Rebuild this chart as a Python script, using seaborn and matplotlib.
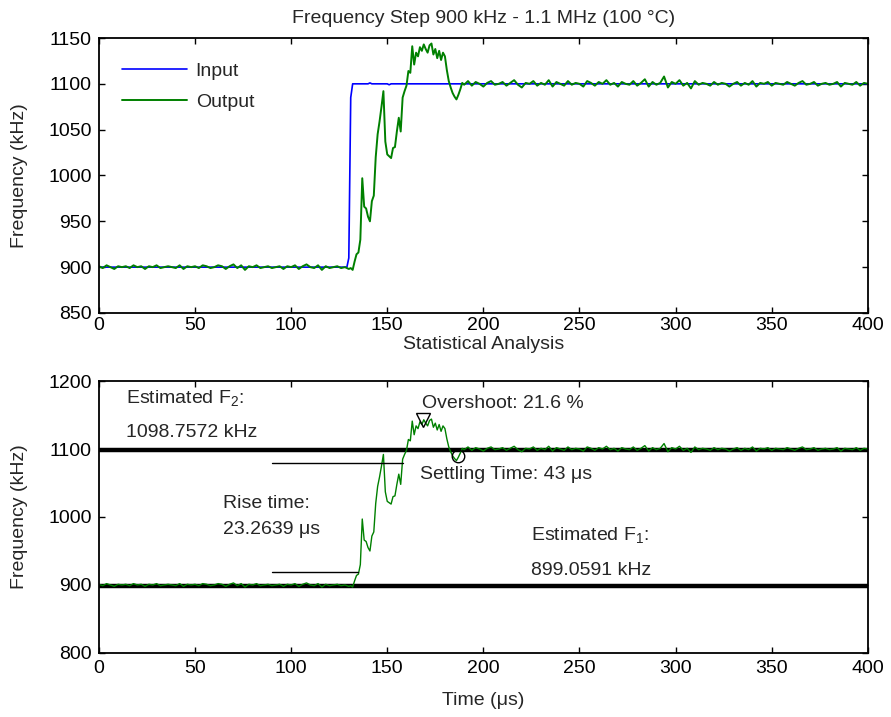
import numpy as np
import pandas as pd
import matplotlib
matplotlib.use("Agg")
import matplotlib.pyplot as plt
import seaborn as sns

# ---------- data --------------------------------------------------------
t_pre = np.arange(0, 131, 2)
out_pre = [901, 899, 902, 900, 898, 901, 900, 901, 899, 902,
           900, 901, 898, 901, 900, 902, 899, 900, 901, 900,
           899, 902, 898, 901, 900, 901, 899, 902, 901, 899,
           900, 902, 901, 898, 901, 903, 899, 902, 897, 901,
           900, 902, 899, 900, 901, 899, 900, 901, 898, 901,
           900, 902, 898, 901, 903, 900, 899, 902, 897, 901,
           899, 900, 901, 899, 900, 898]

t_step = np.arange(131, 190)
out_step = [899, 897, 906, 914, 916, 930, 997, 966, 964, 955,
            950, 972, 978, 1020, 1045, 1059, 1075, 1092, 1037, 1023,
            1021, 1019, 1030, 1031, 1048, 1063, 1048, 1085, 1092, 1098,
            1114, 1112, 1141, 1121, 1134, 1130, 1140, 1136, 1143, 1138,
            1134, 1142, 1144, 1132, 1138, 1128, 1136, 1126, 1134, 1130,
            1115, 1103, 1096, 1090, 1086, 1083, 1088, 1094, 1101]

t_post = np.arange(190, 401, 2)
out_post = [1099, 1103, 1098, 1102, 1100, 1097, 1101, 1103, 1099, 1100,
            1102, 1098, 1101, 1104, 1099, 1096, 1101, 1100, 1103, 1098,
            1101, 1099, 1104, 1097, 1102, 1100, 1098, 1103, 1099, 1101,
            1100, 1097, 1103, 1101, 1098, 1102, 1100, 1104, 1099, 1101,
            1097, 1102, 1100, 1099, 1103, 1098, 1101, 1105, 1097, 1102,
            1099, 1101, 1108, 1096, 1102, 1100, 1104, 1098, 1101, 1095,
            1103, 1099, 1101, 1100, 1098, 1102, 1099, 1101, 1100, 1097,
            1100, 1102, 1098, 1101, 1099, 1103, 1097, 1101, 1100, 1102,
            1098, 1101, 1100, 1099, 1102, 1100, 1098, 1101, 1103, 1099,
            1100, 1102, 1098, 1100, 1101, 1099, 1100, 1102, 1097, 1101,
            1100, 1099, 1102, 1098, 1101, 1100]

t_in = [0, 129, 130, 131, 132, 140, 141, 142, 150, 151, 152, 400]
f_in = [900, 900, 910, 1085, 1100, 1100, 1101, 1100, 1100, 1099, 1100, 1100]

f1_est = 899.0591
f2_est = 1098.7572
t_10, t_90 = 134.9, 158.2
lvl_10, lvl_90 = 919.03, 1078.78
overshoot_pt = (168.5, 1142.0)
settle_pt = (186.8, 1090.0)

blue = (0, 0, 1)
green = (0, 0.5, 0)

out = pd.DataFrame({
    "t": np.concatenate([t_pre, t_step, t_post]),
    "f": np.concatenate([out_pre, out_step, out_post]),
})
inp = pd.DataFrame({"t": t_in, "f": f_in})

# ---------- style --------------------------------------------------------
FS = 14
sns.set_style("ticks")
plt.rcParams["font.family"] = ["Liberation Sans", "DejaVu Sans"]
plt.rcParams["font.size"] = FS
plt.rcParams["mathtext.fontset"] = "custom"
plt.rcParams["mathtext.rm"] = "Liberation Sans"
plt.rcParams["mathtext.it"] = "Liberation Sans"

fig = plt.figure(figsize=(8.91, 7.17), dpi=100)
ax1 = fig.add_axes([0.111, 0.5635, 0.863, 0.3835])
ax2 = fig.add_axes([0.111, 0.0893, 0.863, 0.3793])


def matlab_box(ax):
    for s in ax.spines.values():
        s.set_linewidth(1.3)
        s.set_color("black")
    ax.tick_params(direction="in", top=True, right=True, length=4,
                   width=1.0, colors="black", labelsize=FS)
    ax.tick_params(axis="y", pad=5)
    ax.tick_params(axis="x", pad=3)
    ax.set_xlim(0, 400)
    ax.set_xticks(range(0, 401, 50))
    ax.yaxis.set_label_coords(-0.092, 0.5)


# ---------- top: step response ------------------------------------------
sns.lineplot(data=inp, x="t", y="f", color=blue, lw=1.2, ax=ax1,
             estimator=None, label="Input")
sns.lineplot(data=out, x="t", y="f", color=green, lw=1.4, ax=ax1,
             estimator=None, label="Output")
matlab_box(ax1)
ax1.set_ylim(850, 1150)
ax1.set_yticks(range(850, 1151, 50))
ax1.set_xlabel("")
ax1.set_ylabel("Frequency (kHz)")
ax1.set_title("Frequency Step 900 kHz - 1.1 MHz (100 \u00b0C)", fontsize=FS, pad=11)
ax1.legend(loc="upper left", frameon=False, handlelength=3.35,
           bbox_to_anchor=(0.012, 0.96), borderaxespad=0.3, labelspacing=0.66,
           handletextpad=0.45)

# ---------- bottom: statistical analysis ----------------------------------
ax2.axhline(f2_est, color="black", lw=3.2, zorder=1)
ax2.axhline(f1_est, color="black", lw=3.2, zorder=1)
sns.lineplot(data=out, x="t", y="f", color=green, lw=1.0, ax=ax2,
             estimator=None, zorder=2)
ax2.plot([90, t_10], [lvl_10, lvl_10], color="black", lw=1.0)
ax2.plot([90, t_90], [lvl_90, lvl_90], color="black", lw=1.0)
ax2.plot(*overshoot_pt, marker="v", ms=10, mfc="none", mec="black", mew=1.0)
ax2.plot(*settle_pt, marker="o", ms=9, mfc="none", mec="black", mew=1.0)
matlab_box(ax2)
ax2.tick_params(axis="x", pad=5)
ax2.set_ylim(800, 1200)
ax2.set_yticks(range(800, 1201, 100))
ax2.set_xlabel("Time (\u03bcs)", labelpad=11)
ax2.set_ylabel("Frequency (kHz)")
ax2.set_title("Statistical Analysis", fontsize=FS, pad=23)

ax2.text(14, 1175, "Estimated F$_2$:", va="center")
ax2.text(14, 1124, "1098.7572 kHz", va="center")
ax2.text(64.5, 1020, "Rise time:", va="center")
ax2.text(64.5, 981, "23.2639 \u03bcs", va="center")
ax2.text(168, 1167, "Overshoot: 21.6 %", va="center")
ax2.text(167, 1062, "Settling Time: 43 \u03bcs", va="center")
ax2.text(225, 973, "Estimated F$_1$:", va="center")
ax2.text(225, 922, "899.0591 kHz", va="center")

fig.savefig("out.png", dpi=100)
